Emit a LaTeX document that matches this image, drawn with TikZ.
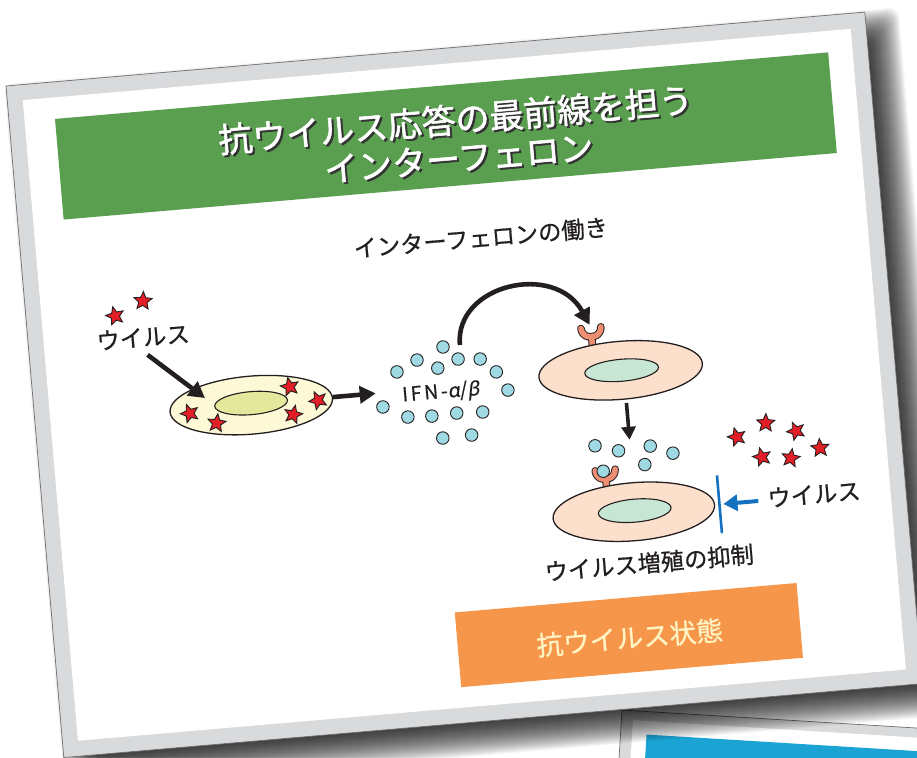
\documentclass[tikz,border=0pt]{standalone}
\usepackage{fontspec}
\setmainfont{Noto Sans CJK JP}[FakeBold=0.7]
\newfontfamily\titlefont{Noto Sans CJK JP}[FakeBold=1.6]
\newfontfamily\ifnfont{Noto Sans CJK JP}[FakeBold=0.5,LetterSpace=14]
\newfontfamily\greekslant{Noto Sans}[FakeSlant=0.18,FakeBold=0.5]
\usetikzlibrary{shapes.geometric,arrows.meta}

\definecolor{cardgray}{HTML}{D9DADC}
\definecolor{edgegray}{HTML}{6D6E71}
\definecolor{ink}{HTML}{231F20}
\definecolor{bannergreen}{HTML}{5A9E50}
\definecolor{boxorange}{HTML}{F6964A}
\definecolor{creamtext}{HTML}{FFF4C4}
\definecolor{headerblue}{HTML}{1BA3D4}
\definecolor{virusred}{HTML}{E21F26}
\definecolor{ifnblue}{HTML}{9FD9E3}
\definecolor{cellyellow}{HTML}{FDF8D5}
\definecolor{nucyellow}{HTML}{E3E89C}
\definecolor{cellpeach}{HTML}{FCE0CC}
\definecolor{nucgreen}{HTML}{C8E6D4}
\definecolor{receptorsalmon}{HTML}{EF8E72}
\definecolor{blockblue}{HTML}{1471C0}

\tikzset{
  cell/.style={ellipse, draw=ink, line width=1.3pt, inner sep=0pt},
  nucleus/.style={ellipse, draw=ink, line width=1.1pt, inner sep=0pt},
  vstar/.style={star, star points=5, star point ratio=2.2, minimum size=19pt,
    inner sep=0pt, fill=virusred, draw=ink, line width=0.9pt},
  ifn/.style={circle, minimum size=12.5pt, inner sep=0pt, fill=ifnblue,
    draw=ink, line width=0.9pt},
  label/.style={font=\fontsize{23.3}{27}\selectfont, text=ink, inner sep=0pt},
  bigarrow/.style={draw=ink, line width=4.6pt,
    -{Triangle[length=16pt,width=17pt]}},
  midarrow/.style={draw=ink, line width=3.6pt,
    -{Triangle[length=13pt,width=14pt]}},
  bluearrow/.style={draw=blockblue, line width=4pt,
    -{Triangle[length=14pt,width=16pt]}},
  receptor/.pic={
    \draw[ink, line width=7.6pt, line cap=round, line join=round]
      (0,12) -- (0,0)
      (-10,-9) .. controls (-9,-1) and (-4,0) .. (0,0)
      .. controls (4,0) and (9,-1) .. (10,-9);
    \draw[receptorsalmon, line width=5.6pt, line cap=round, line join=round]
      (0,12) -- (0,0)
      (-10,-9) .. controls (-9,-1) and (-4,0) .. (0,0)
      .. controls (4,0) and (9,-1) .. (10,-9);
  }
}

\begin{document}
\begin{tikzpicture}[x=1pt,y=-1pt]
\useasboundingbox (0,0) rectangle (917,757);
\clip (0,0) rectangle (917,757);
\fill[white] (0,0) rectangle (917,757);

% card lying underneath, lower right
\begin{scope}[shift={(622,710)},rotate=-3.5]
  \fill[cardgray] (0,0) rectangle (600,300);
  \fill[white] (11.5,9.5) rectangle (588,290);
  \fill[headerblue] (26,23) rectangle (575,200);
  \draw[edgegray, line width=0.7pt] (0,300) -- (0,0) -- (600,0);
\end{scope}

% main card
\begin{scope}[shift={(6,86)},rotate=4.92,transform shape]
  % soft drop shadow
  \foreach \i in {-16,...,18}{
    \fill[black,opacity=0.036,rounded corners=10pt]
      ({16-\i},{16-\i}) rectangle ({878+\i},{690+\i});
  }
  \fill[cardgray] (0,0) rectangle (862,674);
  \draw[edgegray, line width=0.7pt] (0,0) rectangle (862,674);
  \fill[white] (15.5,15.5) rectangle (846.5,658.5);

  % title banner
  \node[fill=bannergreen, minimum width=776pt, minimum height=101pt,
        inner sep=0pt] (banner) at (434,87.5) {};
  \node[align=center, text=black!80, font=\titlefont\fontsize{34}{38.5}\selectfont]
        (titleshadow) at (447,92.5)
        {抗ウイルス応答の最前線を担う\\インターフェロン};
  \node[align=center, text=white, font=\titlefont\fontsize{34}{38.5}\selectfont]
        (title) at (445,90.5)
        {抗ウイルス応答の最前線を担う\\インターフェロン};

  \node[label] (subtitle) at (460,192) {インターフェロンの働き};

  % infected cell
  \node[vstar, shape border rotate=10] (s1) at (89,238.5) {};
  \node[vstar, shape border rotate=-8] (s2) at (118,226) {};
  \node[label] (virusL) at (115,262) {ウイルス};
  \coordinate (a1s) at (118,280);
  \coordinate (a1e) at (171.5,328);

  \node[cell, fill=cellyellow, minimum width=163pt, minimum height=58pt]
        (cellA) at (217,339) {};
  \node[nucleus, fill=nucyellow, minimum width=73pt, minimum height=23pt]
        (nucA) at (217,337) {};
  \node[vstar, shape border rotate=15] (s3) at (155,342) {};
  \node[vstar, shape border rotate=-12] (s4) at (181,354) {};
  \node[vstar, shape border rotate=8] (s5) at (257,324) {};
  \node[vstar, shape border rotate=-18] (s6) at (258,352) {};
  \node[vstar, shape border rotate=20] (s7) at (284,340) {};
  \draw[bigarrow] (a1s) -- (a1e);

  \coordinate (a2s) at (299,338);
  \coordinate (a2e) at (342,338);
  \draw[bigarrow] (a2s) -- (a2e);

  % released interferon
  \node[ifn] (d1) at (413,297.5) {};
  \node[ifn] (d2) at (386,308.3) {};
  \node[ifn] (d3) at (427,310.8) {};
  \node[ifn] (d4) at (449,312.7) {};
  \node[ifn] (d5) at (365,318.4) {};
  \node[ifn] (d6) at (406,318.1) {};
  \node[ifn] (d7) at (464,326.9) {};
  \node[ifn] (d8) at (474,346) {};
  \node[ifn] (d9) at (348,352.1) {};
  \node[ifn] (d10) at (372,364.3) {};
  \node[ifn] (d11) at (396,365.4) {};
  \node[ifn] (d12) at (421,364.5) {};
  \node[ifn] (d13) at (447,365.7) {};
  \node[ifn] (d14) at (405,388.2) {};
  \node[ifn] (d15) at (434,387.7) {};
  \node[text=ink, inner sep=0pt, font=\ifnfont\fontsize{19.5}{22}\selectfont]
        (ifnlabel) at (407,343) {IFN-{\greekslant α}/{\greekslant β}};

  % neighbouring cell receiving the signal
  \coordinate (a3s) at (430,297);
  \coordinate (a3e) at (561,288);
  \draw[bigarrow] (a3s) .. controls (430,236) and (532,222) .. (a3e);
  \pic at (562,300) {receptor};
  \node[cell, fill=cellpeach, minimum width=164pt, minimum height=58pt]
        (cellB) at (588,336) {};
  \node[nucleus, fill=nucgreen, minimum width=74pt, minimum height=22pt]
        (nucB) at (589,336) {};

  \coordinate (a4s) at (591,369);
  \coordinate (a4e) at (591,406);
  \draw[midarrow] (a4s) -- (a4e);

  \node[ifn] (e1) at (556,409) {};
  \node[ifn] (e2) at (579,416) {};
  \node[ifn] (e3) at (611,414) {};
  \node[ifn] (e4) at (633,423) {};
  \node[ifn] (e5) at (604,432) {};

  \pic at (564,443) {receptor};
  \node[ifn] (e6) at (562,435) {};
  \node[cell, fill=cellpeach, minimum width=162pt, minimum height=58pt]
        (cellC) at (589,478) {};
  \node[nucleus, fill=nucgreen, minimum width=73pt, minimum height=23pt]
        (nucC) at (590,477) {};

  % blocked virus
  \coordinate (bar1) at (675,449);
  \coordinate (bar2) at (675,507);
  \draw[blockblue, line width=2.6pt] (bar1) -- (bar2);
  \coordinate (a5s) at (714,478);
  \coordinate (a5e) at (679,478);
  \draw[bluearrow] (a5s) -- (a5e);
  \node[label] (virusR) at (770,476) {ウイルス};
  \node[vstar, shape border rotate=12] (r1) at (698,412.4) {};
  \node[vstar, shape border rotate=-6] (r2) at (728,401) {};
  \node[vstar, shape border rotate=18] (r3) at (757.5,411.5) {};
  \node[vstar, shape border rotate=0] (r4) at (780,430.5) {};
  \node[vstar, shape border rotate=-14] (r5) at (750,438) {};
  \node[vstar, shape border rotate=10] (r6) at (721.4,434.5) {};

  \node[label] (suppress) at (600,530.4) {ウイルス増殖の抑制};

  % resulting state
  \node[fill=boxorange, minimum width=343pt, minimum height=75pt, inner sep=0pt]
        (state) at (573.5,600.5) {};
  \node[text=creamtext, inner sep=0pt, font=\fontsize{26.7}{30}\selectfont]
        (statetext) at (574,603) {抗ウイルス状態};
\end{scope}
\end{tikzpicture}
\end{document}
